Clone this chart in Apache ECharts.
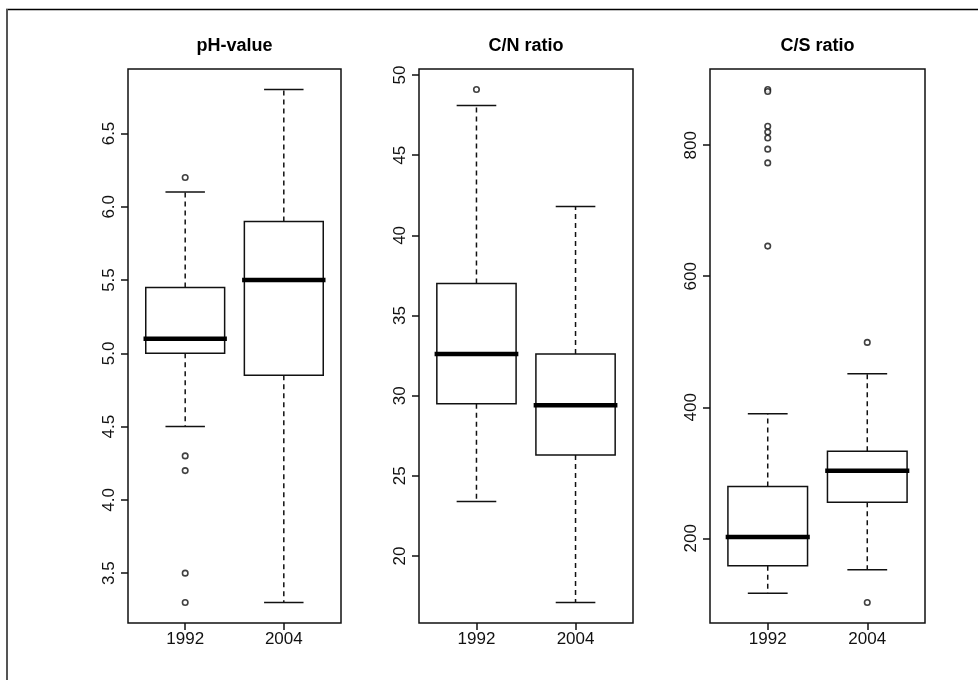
<!DOCTYPE html>
<html lang="en">
<head>
	<meta charset="utf-8">
	<title>pH-value, C/N ratio, C/S ratio</title>
	<script src="https://cdn.jsdelivr.net/npm/echarts@6/dist/echarts.min.js"></script>
	<style>
		html, body { margin: 0; padding: 0; background: #fff; }
		#container { width: 978px; height: 680px; }
	</style>
</head>
<body>
	<div id="container"></div>
	<script type="text/javascript">
		// years on the x axis
		let years = ['1992', '2004'];
		let titles = ['pH-value', 'C/N ratio', 'C/S ratio'];

		// [lower whisker, Q1, median, Q3, upper whisker] for 1992 and 2004
		let phStats = [[4.5, 5.0, 5.1, 5.45, 6.1], [3.3, 4.85, 5.5, 5.9, 6.8]];
		let cnStats = [[23.4, 29.5, 32.6, 37.0, 48.1], [17.1, 26.3, 29.4, 32.6, 41.8]];
		let csStats = [[116, 158, 202, 279, 390], [152, 255, 303, 333, 451]];

		// points outside the whiskers
		let phOutliers = [[6.2, 4.3, 4.2, 3.5, 3.3], []];
		let cnOutliers = [[49.1], []];
		let csOutliers = [[885, 882, 829, 820, 811, 794, 773, 646], [499, 102]];

		// y tick labels
		let phTicks = [3.5, 4.0, 4.5, 5.0, 5.5, 6.0, 6.5];
		let cnTicks = [20, 25, 30, 35, 40, 45, 50];
		let csTicks = [200, 400, 600, 800];

		let panels = [
			{ stats: phStats, out: phOutliers, ticks: phTicks, digits: 1 },
			{ stats: cnStats, out: cnOutliers, ticks: cnTicks, digits: 0 },
			{ stats: csStats, out: csOutliers, ticks: csTicks, digits: 0 }
		];

		let gridLeft = [128, 419, 710];
		let gridWidth = [213, 214, 215];
		let font = "'Liberation Sans', Arial, sans-serif";
		let ink = '#111';

		// R style range: data range stretched by 4% on each side
		function axisRange(p) {
			let all = [];
			p.stats.forEach(function (s) { all = all.concat(s); });
			p.out.forEach(function (o) { all = all.concat(o); });
			let lo = Math.min.apply(null, all);
			let hi = Math.max.apply(null, all);
			let pad = (hi - lo) * 0.04;
			return [lo - pad, hi + pad];
		}

		// box, thick median, dashed whiskers and staples
		function drawBox(params, api) {
			let x = api.value(0);
			let lo = api.coord([x, api.value(1)]);
			let q1 = api.coord([x, api.value(2)]);
			let med = api.coord([x, api.value(3)]);
			let q3 = api.coord([x, api.value(4)]);
			let hi = api.coord([x, api.value(5)]);
			let half = api.size([0.8, 0])[0] / 2;
			let cap = half / 2;
			let cx = lo[0];
			let solid = { stroke: ink, lineWidth: 1.5, fill: null };
			let dashed = { stroke: ink, lineWidth: 1.5, lineDash: [5, 4] };
			return {
				type: 'group',
				children: [
					{ type: 'line', shape: { x1: cx, y1: q3[1], x2: cx, y2: hi[1] }, style: dashed },
					{ type: 'line', shape: { x1: cx, y1: q1[1], x2: cx, y2: lo[1] }, style: dashed },
					{ type: 'line', shape: { x1: cx - cap, y1: hi[1], x2: cx + cap, y2: hi[1] }, style: solid },
					{ type: 'line', shape: { x1: cx - cap, y1: lo[1], x2: cx + cap, y2: lo[1] }, style: solid },
					{ type: 'rect', shape: { x: cx - half, y: q3[1], width: half * 2, height: q1[1] - q3[1] }, style: { stroke: ink, lineWidth: 1.5, fill: '#fff' } },
					{ type: 'line', shape: { x1: cx - half, y1: med[1], x2: cx + half, y2: med[1] }, style: { stroke: '#000', lineWidth: 4.5, lineCap: 'square' } }
				]
			};
		}

		let option = {
			animation: false,
			backgroundColor: '#fff',
			title: [],
			grid: [],
			xAxis: [],
			yAxis: [],
			series: [],
			graphic: [
				{ type: 'line', shape: { x1: 6, y1: 9.5, x2: 978, y2: 9.5 }, style: { stroke: '#000', lineWidth: 1.5 } },
				{ type: 'line', shape: { x1: 7, y1: 9, x2: 7, y2: 680 }, style: { stroke: '#555', lineWidth: 2 } }
			]
		};

		panels.forEach(function (p, i) {
			let range = axisRange(p);
			option.title.push({
				text: titles[i],
				left: gridLeft[i] + gridWidth[i] / 2,
				top: 37,
				padding: 0,
				textAlign: 'center',
				textStyle: { fontFamily: font, fontSize: 18, fontWeight: 'bold', color: '#000' }
			});
			option.grid.push({
				left: gridLeft[i], top: 69, width: gridWidth[i], height: 554,
				show: true, borderColor: ink, borderWidth: 1.5, backgroundColor: 'transparent'
			});
			option.xAxis.push({
				type: 'value', gridIndex: i, min: 0.42, max: 2.58,
				axisLine: { show: false },
				splitLine: { show: false },
				axisTick: { show: true, length: 7, customValues: [1, 2], lineStyle: { color: ink, width: 1.5 } },
				axisLabel: {
					customValues: [1, 2], margin: 8,
					fontFamily: font, fontSize: 17, color: '#111',
					formatter: function (v) { return years[Math.round(v) - 1]; }
				}
			});
			option.yAxis.push({
				type: 'value', gridIndex: i, min: range[0], max: range[1],
				axisLine: { show: false },
				splitLine: { show: false },
				axisTick: { show: true, length: 7, customValues: p.ticks, lineStyle: { color: ink, width: 1.5 } },
				axisLabel: {
					customValues: p.ticks, rotate: 90, margin: 10,
					fontFamily: font, fontSize: 17, color: '#111',
					formatter: function (v) { return v.toFixed(p.digits); }
				}
			});
			option.series.push({
				type: 'custom',
				xAxisIndex: i, yAxisIndex: i,
				renderItem: drawBox,
				silent: true,
				encode: { x: 0, y: [1, 2, 3, 4, 5] },
				data: p.stats.map(function (s, k) { return [k + 1].concat(s); })
			});
			let pts = [];
			p.out.forEach(function (o, k) {
				o.forEach(function (v) { pts.push([k + 1, v]); });
			});
			option.series.push({
				type: 'scatter',
				xAxisIndex: i, yAxisIndex: i,
				symbol: 'circle', symbolSize: 5.5,
				silent: true,
				itemStyle: { color: '#fff', borderColor: ink, borderWidth: 1.6 },
				data: pts
			});
		});

		let myChart = echarts.init(document.getElementById('container'), null, { renderer: 'canvas' });
		myChart.setOption(option);
	</script>
</body>
</html>
